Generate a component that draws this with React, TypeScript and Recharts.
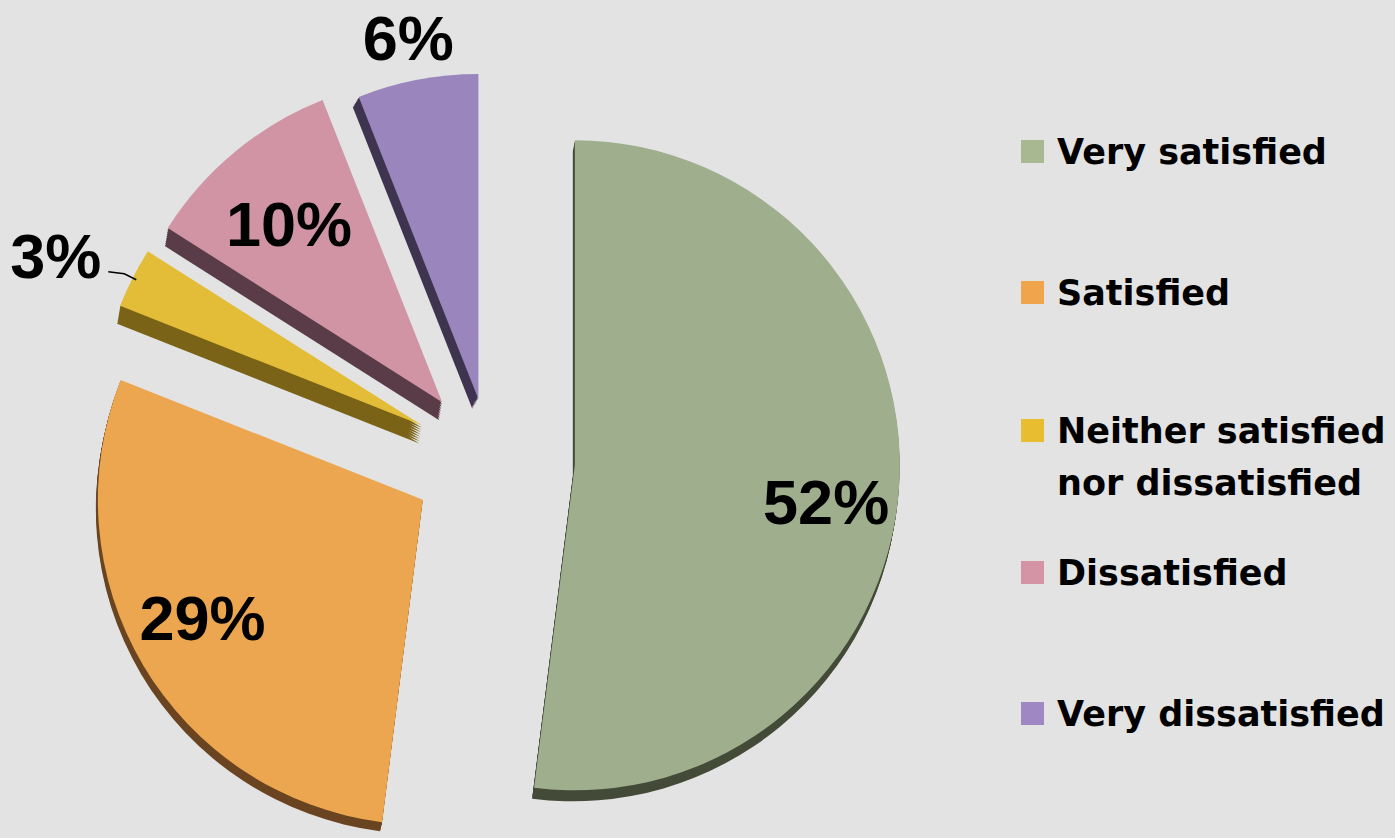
import React from 'react';
import { PieChart, Pie, Cell, Sector, Legend } from 'recharts';

// ---- data ----
const categories = [
  'Very satisfied',
  'Satisfied',
  'Neither satisfied nor dissatisfied',
  'Dissatisfied',
  'Very dissatisfied',
];
const legendLines = [
  ['Very satisfied'],
  ['Satisfied'],
  ['Neither satisfied', 'nor dissatisfied'],
  ['Dissatisfied'],
  ['Very dissatisfied'],
];
const shares = [52, 29, 3, 10, 6];

// ---- styles ----
const FACE = ['#9fae8d', '#eca650', '#e3bd38', '#d094a4', '#9a86bd'];
const SIDE = ['#434a37', '#6a4420', '#7a6316', '#5a3c48', '#3e3450'];
const SWATCH = ['#a8b890', '#f0a44c', '#e8bd2f', '#d494a6', '#9f87c3'];
const EXPLODE = [85, 78, 76, 75, 62];
const DEPTH: number[][] = [[-2, 11], [-2, 9], [-3, 18], [-3, 18], [-6, 10]];
const LABEL_POS: ({ r: number; da: number } | null)[] = [
  { r: 254, da: 4.8 },
  { r: 250, da: 2.4 },
  null,
  { r: 235, da: -1.1 },
  { r: 368, da: -0.2 },
];
const LEGEND_BASELINE = [164, 305, 443, 585, 726];
const LEGEND_LINE_GAP = 52;

const data = categories.map((name, i) => ({ name, value: shares[i] }));

const RAD = Math.PI / 180;
const CX = 490;
const CY = 460;
const R = 325;
const LABEL_FONT = {
  fontFamily: '"Liberation Sans", Arial, sans-serif',
  fontWeight: 700,
  fontSize: 63,
  fill: '#000',
};

function polar(angle: number, d: number): [number, number] {
  return [d * Math.cos(-angle * RAD), d * Math.sin(-angle * RAD)];
}

function findIndex(props: any): number {
  const n = props?.name ?? props?.payload?.name;
  const i = categories.indexOf(n);
  if (i >= 0) return i;
  return typeof props?.index === 'number' ? props.index : 0;
}

const FaceShape = (props: any) => {
  const i = findIndex(props);
  const [dx, dy] = polar(props.midAngle, EXPLODE[i]);
  return (
    <Sector
      cx={props.cx + dx}
      cy={props.cy + dy}
      innerRadius={0}
      outerRadius={props.outerRadius}
      startAngle={props.startAngle}
      endAngle={props.endAngle}
      fill={FACE[i]}
      stroke="none"
    />
  );
};

const SideShape = (props: any) => {
  const i = findIndex(props);
  const [dx, dy] = polar(props.midAngle, EXPLODE[i]);
  const steps = 8;
  const layers = [];
  for (let k = 1; k <= steps; k++) {
    layers.push(
      <Sector
        key={k}
        cx={props.cx + dx + (DEPTH[i][0] * k) / steps}
        cy={props.cy + dy + (DEPTH[i][1] * k) / steps}
        innerRadius={0}
        outerRadius={props.outerRadius}
        startAngle={props.startAngle}
        endAngle={props.endAngle}
        fill={SIDE[i]}
        stroke="none"
      />
    );
  }
  return <g>{layers}</g>;
};

const renderLabel = (props: any) => {
  const { cx, cy, midAngle, outerRadius } = props;
  const i = findIndex(props);
  const [ex, ey] = polar(midAngle, EXPLODE[i]);
  const tx = cx + ex;
  const ty = cy + ey;
  const pos = LABEL_POS[i];
  if (pos) {
    const [lx, ly] = polar(midAngle - pos.da, pos.r);
    return (
      <text
        key={`l${i}`}
        x={tx + lx}
        y={ty + ly}
        textAnchor="middle"
        dominantBaseline="central"
        {...LABEL_FONT}
      >
        {shares[i]}%
      </text>
    );
  }
  const [px, py] = polar(midAngle, outerRadius - 4);
  const p1x = tx + px;
  const p1y = ty + py;
  const pts = `${p1x},${p1y} ${p1x - 12},${p1y - 6} ${p1x - 28},${p1y - 8}`;
  return (
    <g key={`l${i}`}>
      <polyline points={pts} fill="none" stroke="#000" strokeWidth={1.5} />
      <text
        x={p1x - 35}
        y={p1y - 24}
        textAnchor="end"
        dominantBaseline="central"
        {...LABEL_FONT}
      >
        {shares[i]}%
      </text>
    </g>
  );
};

const renderLegend = () => (
  <svg width={374} height={838} style={{ display: 'block' }}>
    {legendLines.map((lines, i) => (
      <g key={i}>
        <rect x={0} y={LEGEND_BASELINE[i] - 24} width={23} height={23} fill={SWATCH[i]} />
        <text
          x={36}
          y={LEGEND_BASELINE[i]}
          fontFamily='"DejaVu Sans", sans-serif'
          fontWeight={700}
          fontSize={35}
          fill="#000"
        >
          {lines.map((ln, j) => (
            <tspan key={j} x={36} y={LEGEND_BASELINE[i] + j * LEGEND_LINE_GAP}>
              {ln}
            </tspan>
          ))}
        </text>
      </g>
    ))}
  </svg>
);

export default function App() {
  return (
    <div
      style={{
        position: 'absolute',
        left: 0,
        top: 0,
        width: 1395,
        height: 838,
        background: '#e3e3e3',
        overflow: 'hidden',
      }}
    >
      <PieChart width={1395} height={838} margin={{ top: 0, right: 0, bottom: 0, left: 0 }}>
        <Pie
          data={data}
          dataKey="value"
          nameKey="name"
          cx={CX}
          cy={CY}
          outerRadius={R}
          startAngle={90}
          endAngle={-270}
          isAnimationActive={false}
          shape={SideShape}
          labelLine={false}
          stroke="none"
          legendType="none"
        >
          {data.map((d, i) => (
            <Cell key={d.name} fill={SIDE[i]} />
          ))}
        </Pie>
        <Pie
          data={data}
          dataKey="value"
          nameKey="name"
          cx={CX}
          cy={CY}
          outerRadius={R}
          startAngle={90}
          endAngle={-270}
          isAnimationActive={false}
          shape={FaceShape}
          label={renderLabel}
          labelLine={false}
          stroke="none"
        >
          {data.map((d, i) => (
            <Cell key={d.name} fill={FACE[i]} />
          ))}
        </Pie>
        <Legend
          layout="vertical"
          align="right"
          verticalAlign="middle"
          content={renderLegend}
          wrapperStyle={{ position: 'absolute', left: 1021, top: 0, width: 374, height: 838 }}
        />
      </PieChart>
    </div>
  );
}
